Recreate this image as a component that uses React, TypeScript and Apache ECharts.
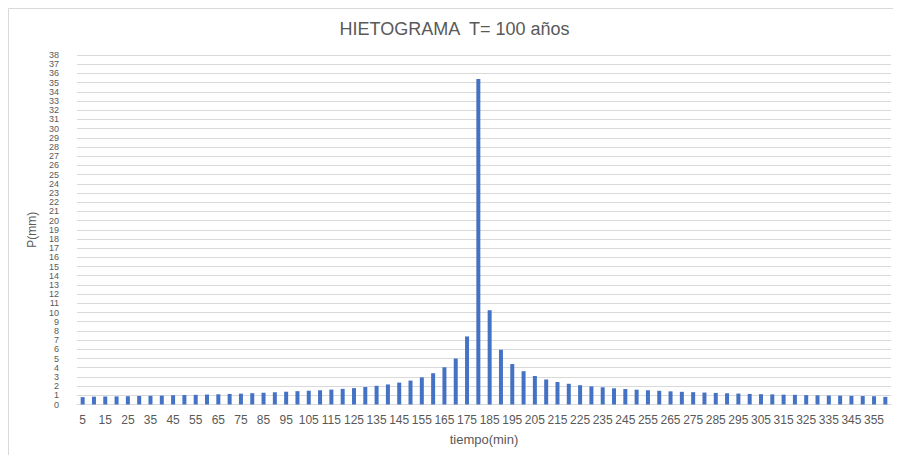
import React, { useEffect, useRef } from "react";
import * as echarts from "echarts";

const TITLE = "HIETOGRAMA  T= 100 años";
const X_NAME = "tiempo(min)";
const Y_NAME = "P(mm)";

const categories: string[] = [
  "5", "10", "15", "20", "25", "30", "35", "40", "45", "50", "55", "60",
  "65", "70", "75", "80", "85", "90", "95", "100", "105", "110", "115", "120",
  "125", "130", "135", "140", "145", "150", "155", "160", "165", "170", "175", "180",
  "185", "190", "195", "200", "205", "210", "215", "220", "225", "230", "235", "240",
  "245", "250", "255", "260", "265", "270", "275", "280", "285", "290", "295", "300",
  "305", "310", "315", "320", "325", "330", "335", "340", "345", "350", "355", "360",
];

const precipitation: number[] = [
  0.8, 0.85, 0.87, 0.88, 0.9, 0.93, 0.95, 0.97, 1.01, 1.03, 1.05, 1.08,
  1.11, 1.15, 1.18, 1.23, 1.27, 1.33, 1.39, 1.45, 1.5, 1.55, 1.62, 1.7,
  1.78, 1.9, 2.03, 2.18, 2.38, 2.6, 2.95, 3.4, 4.05, 5.0, 7.4, 35.4,
  10.25, 5.95, 4.4, 3.62, 3.1, 2.72, 2.45, 2.25, 2.1, 1.97, 1.87, 1.76,
  1.68, 1.61, 1.55, 1.49, 1.43, 1.38, 1.34, 1.3, 1.26, 1.22, 1.19, 1.15,
  1.12, 1.1, 1.07, 1.05, 1.02, 1.0, 0.98, 0.96, 0.94, 0.92, 0.9, 0.83,
];

const Y_MIN = 0;
const Y_MAX = 38;
const Y_INTERVAL = 1;

export default function App() {
  const ref = useRef<HTMLDivElement>(null);

  useEffect(() => {
    if (!ref.current) return;
    const chart = echarts.init(ref.current, undefined, { renderer: "svg" });
    const font = "'Liberation Sans', Arial, sans-serif";
    chart.setOption({
      animation: false,
      backgroundColor: "#ffffff",
      title: {
        text: TITLE,
        left: "center",
        top: 7,
        textStyle: {
          fontFamily: font,
          fontSize: 18,
          fontWeight: "normal",
          color: "#595959",
        },
      },
      graphic: [
        {
          type: "line",
          shape: { x1: 0.5, y1: 0.5, x2: 893, y2: 0.5 },
          style: { stroke: "#d9d9d9", lineWidth: 1 },
        },
        {
          type: "line",
          shape: { x1: 0.5, y1: 0.5, x2: 0.5, y2: 447 },
          style: { stroke: "#d9d9d9", lineWidth: 1 },
        },
      ],
      grid: { left: 69, right: 10, top: 47, bottom: 50.5, containLabel: false },
      xAxis: {
        type: "category",
        data: categories,
        name: X_NAME,
        nameLocation: "middle",
        nameGap: 28,
        nameTextStyle: { fontFamily: font, fontSize: 13, color: "#595959" },
        axisLine: { show: true, lineStyle: { color: "#d9d9d9" } },
        axisTick: { show: false },
        axisLabel: {
          interval: 1,
          margin: 9,
          fontFamily: font,
          fontSize: 12,
          color: "#595959",
        },
      },
      yAxis: {
        type: "value",
        min: Y_MIN,
        max: Y_MAX,
        interval: Y_INTERVAL,
        name: Y_NAME,
        nameLocation: "middle",
        nameGap: 30,
        nameRotate: 90,
        nameTextStyle: { fontFamily: font, fontSize: 12, color: "#595959" },
        axisLine: { show: false },
        axisTick: { show: false },
        axisLabel: {
          margin: 18,
          fontFamily: font,
          fontSize: 9,
          lineHeight: 9,
          color: "#595959",
          showMinLabel: true,
          showMaxLabel: true,
        },
        splitLine: { lineStyle: { color: "#d9d9d9", width: 1 } },
      },
      series: [
        {
          type: "bar",
          data: precipitation,
          barWidth: 4,
          itemStyle: { color: "#4472c4" },
        },
      ],
    });
    return () => chart.dispose();
  }, []);

  return <div ref={ref} style={{ width: 893, height: 447 }} />;
}
